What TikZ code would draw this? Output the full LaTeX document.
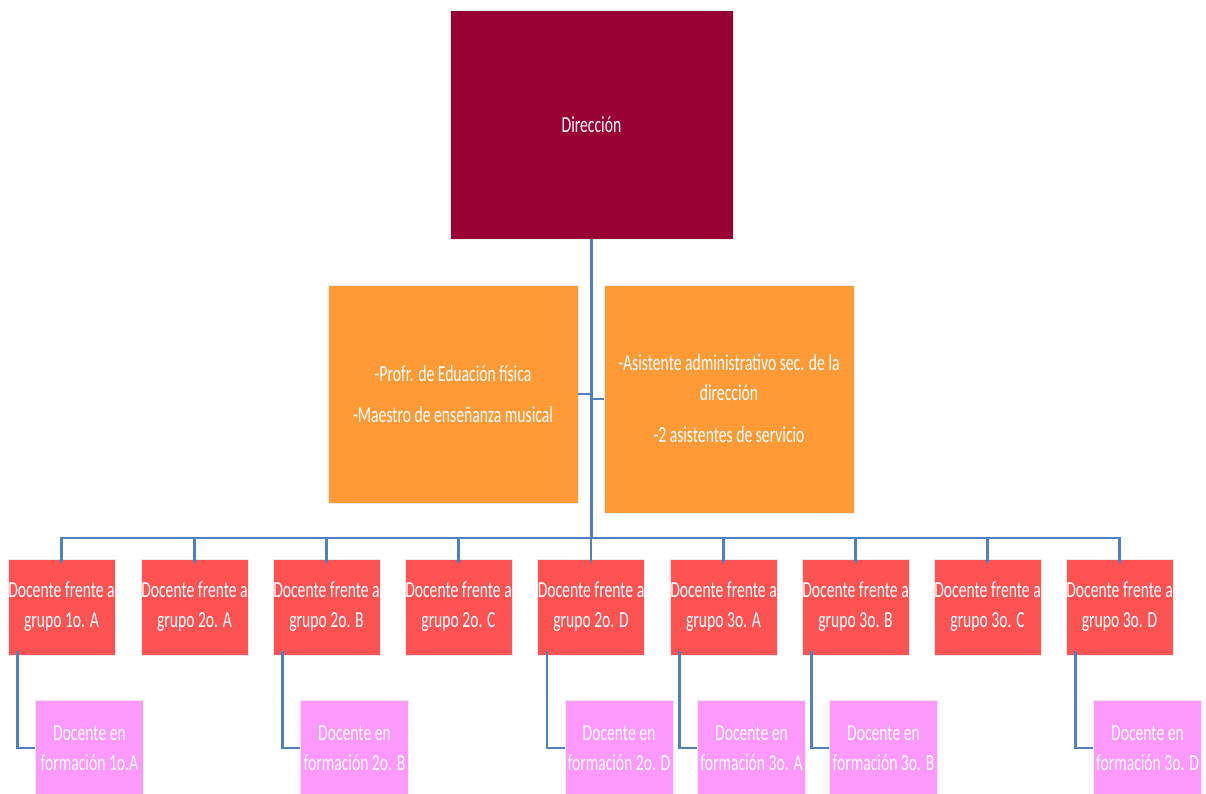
\documentclass[tikz,border=0pt]{standalone}
\usepackage{fontspec}
\setmainfont{Carlito}[FakeStretch=0.68]
\definecolor{dircolor}{HTML}{990033}
\definecolor{staffcolor}{HTML}{FF9A36}
\definecolor{groupcolor}{HTML}{FF5252}
\definecolor{traineecolor}{HTML}{FF99FF}
\definecolor{linkcolor}{HTML}{4F81BD}
\begin{document}
\begin{tikzpicture}[x=1pt, y=-1pt,
	box/.style={ draw=white!85!gray, line width=0.6pt, text=white, align=center, inner sep=0pt, font=\fontsize{23}{30}\selectfont },
	dirbox/.style={ box, fill=dircolor, minimum width=283pt, minimum height=229pt },
	staffbox/.style={ box, fill=staffcolor, minimum width=250pt },
	groupbox/.style={ box, fill=groupcolor, minimum width=107pt, minimum height=96pt },
	traineebox/.style={ box, fill=traineecolor, minimum width=108pt, minimum height=96pt },
	link/.style={ linkcolor, line width=2.5pt }
]
\useasboundingbox (0,0) rectangle (1206,794);

\node[dirbox] at (591.5,124.5) (dir) {Dirección};
\node[staffbox, minimum height=218pt] at (453,394) (prof) {-Profr. de Eduación física\\[11pt]-Maestro de enseñanza musical};
\node[staffbox, minimum height=228pt] at (729,399) (asist) {-Asistente administrativo sec. de la\\dirección\\[12pt]-2 asistentes de servicio};
\coordinate (bus) at (591.5,538);

% groups
\node[groupbox] at (61.5,607) (g1a) {Docente frente a\\grupo 1o. A};
\node[groupbox] at (194.5,607) (g2a) {Docente frente a\\grupo 2o. A};
\node[groupbox] at (326.5,607) (g2b) {Docente frente a\\grupo 2o. B};
\node[groupbox] at (458.5,607) (g2c) {Docente frente a\\grupo 2o. C};
\node[groupbox] at (591,607) (g2d) {Docente frente a\\grupo 2o. D};
\node[groupbox] at (723.5,607) (g3a) {Docente frente a\\grupo 3o. A};
\node[groupbox] at (855.5,607) (g3b) {Docente frente a\\grupo 3o. B};
\node[groupbox] at (987.5,607) (g3c) {Docente frente a\\grupo 3o. C};
\node[groupbox] at (1119.5,607) (g3d) {Docente frente a\\grupo 3o. D};

% trainees
\node[traineebox] at (89.5,748) (t1a) {Docente en\\formación 1o.A};
\node[traineebox] at (354.5,748) (t2b) {Docente en\\formación 2o. B};
\node[traineebox] at (619,748) (t2d) {Docente en\\formación 2o. D};
\node[traineebox] at (751.5,748) (t3a) {Docente en\\formación 3o. A};
\node[traineebox] at (883.5,748) (t3b) {Docente en\\formación 3o. B};
\node[traineebox] at (1147.5,748) (t3d) {Docente en\\formación 3o. D};

\draw[link] (dir.south) -- (bus);
\draw[link] (prof.east) -- (prof.east -| bus);
\draw[link] (asist.west) -- (asist.west -| bus);
\draw[link, line cap=rect] (g1a.north |- bus) -- (g3d.north |- bus);
\foreach \g in {g1a,g2a,g2b,g2c,g2d,g3a,g3b,g3c,g3d}
  \draw[link] (\g.north |- bus) -- ([yshift=-4pt]\g.north);
\foreach \g/\t in {g1a/t1a,g2b/t2b,g2d/t2d,g3a/t3a,g3b/t3b,g3d/t3d}
  \draw[link] ([xshift=10pt,yshift=4pt]\g.south west) |- (\t.west);

\end{tikzpicture}
\end{document}
